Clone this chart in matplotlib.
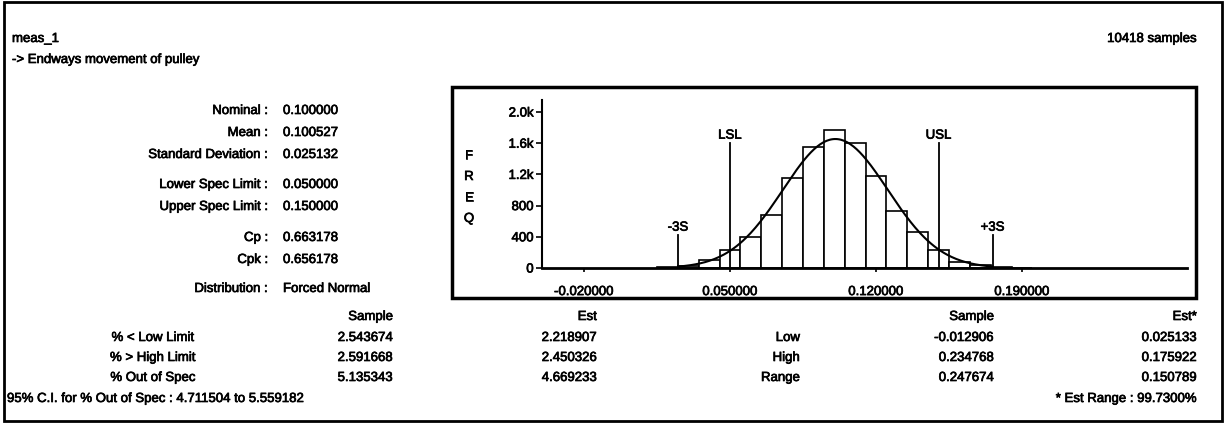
import numpy as np
import matplotlib
matplotlib.use("Agg")
import matplotlib.pyplot as plt
import matplotlib.patheffects as pe
from matplotlib.patches import Rectangle

plt.rcParams['font.family'] = ['Liberation Sans', 'DejaVu Sans']
plt.rcParams['font.size'] = 9.5

# histogram data
bin_centers = [0.02, 0.03, 0.04, 0.05, 0.06, 0.07, 0.08, 0.09, 0.10, 0.11,
               0.12, 0.13, 0.14, 0.15, 0.16, 0.17, 0.18, 0.19]
counts = [8, 30, 100, 230, 400, 680, 1150, 1550, 1775, 1605,
          1180, 730, 460, 230, 80, 35, 10, 3]
bin_width = 0.01

n_samples = 10418
mean = 0.100527
std = 0.025132
lsl = 0.050000
usl = 0.150000

x_ticks = [-0.02, 0.05, 0.12, 0.19]
x_ticklabels = ['-0.020000', '0.050000', '0.120000', '0.190000']
y_ticks = [0, 400, 800, 1200, 1600, 2000]
y_ticklabels = ['0', '400', '800', '1.2k', '1.6k', '2.0k']

stat_labels = ['Nominal :', 'Mean :', 'Standard Deviation :', 'Lower Spec Limit :',
               'Upper Spec Limit :', 'Cp :', 'Cpk :', 'Distribution :']
stat_values = ['0.100000', '0.100527', '0.025132', '0.050000',
               '0.150000', '0.663178', '0.656178', 'Forced Normal']

pct_rows = ['% < Low Limit', '% > High Limit', '% Out of Spec']
pct_sample = ['2.543674', '2.591668', '5.135343']
pct_est = ['2.218907', '2.450326', '4.669233']
rng_rows = ['Low', 'High', 'Range']
rng_sample = ['-0.012906', '0.234768', '0.247674']
rng_est = ['0.025133', '0.175922', '0.150789']

W, H = 1226, 423
fig = plt.figure(figsize=(W / 100, H / 100), dpi=100)

# the scan makes every glyph a bit heavier
heavy = [pe.withStroke(linewidth=0.5, foreground='black')]


def fx(x):
    return x / W


def fy(y):
    return 1 - y / H


def txt(x, y, s, ha='left', **kw):
    fig.text(fx(x), fy(y), s, ha=ha, va='center', path_effects=heavy, **kw)


# outer frame and plot frame
fig.patches.append(Rectangle((fx(4), fy(421)), fx(1222) - fx(4), fy(2) - fy(421),
                             transform=fig.transFigure, fill=False, lw=2, color='black'))
fig.patches.append(Rectangle((fx(452), fy(298)), fx(1196) - fx(452), fy(87) - fy(298),
                             transform=fig.transFigure, fill=False, lw=2.5, color='black'))

txt(12, 39, 'meas_1')
txt(12, 60, '-> Endways movement of pulley')
txt(1197, 39, '10418 samples', ha='right')

stat_y = [111, 133, 155, 185, 207, 238, 260, 289]
for lab, val, y in zip(stat_labels, stat_values, stat_y):
    txt(268, y, lab, ha='right')
    txt(283, y, val)

for i, ch in enumerate('FREQ'):
    txt(469, 156 + i * 21, ch, ha='center')

# histogram axes
ax = fig.add_axes([fx(542), fy(268), fx(1187) - fx(542), fy(100) - fy(268)])
ax.bar(bin_centers, counts, width=bin_width, facecolor='white', edgecolor='black', lw=1.2)

xs = np.linspace(mean - 3 * std, mean + 3 * std, 200)
curve = n_samples * bin_width / (std * np.sqrt(2 * np.pi)) * np.exp(-0.5 * ((xs - mean) / std) ** 2)
ax.plot(xs, curve, color='black', lw=1.5)

for xv, top, lab in [(lsl, 1600, 'LSL'), (usl, 1600, 'USL'),
                     (mean - 3 * std, 420, '-3S'), (mean + 3 * std, 420, '+3S')]:
    ax.plot([xv, xv], [0, top], color='black', lw=1.3)
    ax.text(xv, top + 20, lab, ha='center', va='bottom', path_effects=heavy)

ax.set_xlim(-0.0401, 0.2691)
ax.set_ylim(0, 2154)
ax.set_xticks(x_ticks)
ax.set_xticklabels(x_ticklabels)
ax.set_yticks(y_ticks)
ax.set_yticklabels(y_ticklabels)
for t in ax.get_xticklabels() + ax.get_yticklabels():
    t.set_path_effects(heavy)
ax.tick_params(axis='x', direction='out', length=3, width=1.2, pad=10)
ax.tick_params(axis='y', direction='out', length=4, width=1.2, pad=2)
for s in ['top', 'right']:
    ax.spines[s].set_visible(False)
ax.spines['left'].set_linewidth(1.5)
ax.spines['bottom'].set_linewidth(2)
ax.patch.set_alpha(0)

# bottom tables
row_y = [338, 358, 378]
txt(393, 317, 'Sample', ha='right')
txt(597, 317, 'Est', ha='right')
for lab, s, e, y in zip(pct_rows, pct_sample, pct_est, row_y):
    txt(153, y, lab, ha='center')
    txt(393, y, s, ha='right')
    txt(597, y, e, ha='right')
txt(7, 399, '95% C.I. for % Out of Spec : 4.711504 to 5.559182')

txt(994, 317, 'Sample', ha='right')
txt(1197, 317, 'Est*', ha='right')
for lab, s, e, y in zip(rng_rows, rng_sample, rng_est, row_y):
    txt(800, y, lab, ha='right')
    txt(994, y, s, ha='right')
    txt(1197, y, e, ha='right')
txt(1197, 399, '* Est Range : 99.7300%', ha='right')

fig.savefig('out.png', dpi=100)
